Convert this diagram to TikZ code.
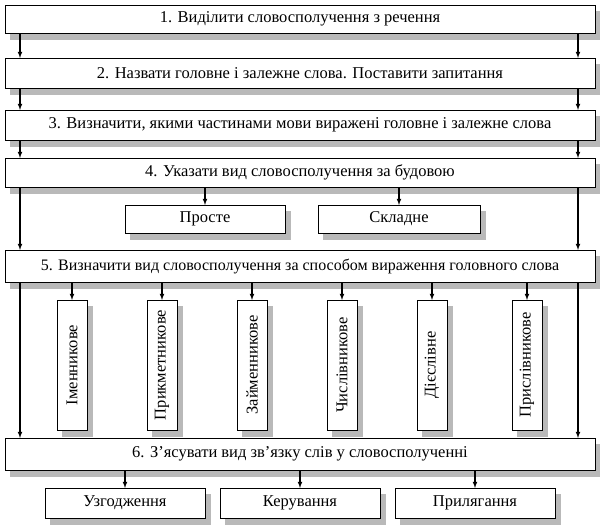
\documentclass[tikz,border=0pt]{standalone}
\usepackage{fontspec}
\setmainfont{Liberation Serif}
\begin{document}
\begin{tikzpicture}[x=1pt,y=-1pt,
  bx/.style={draw=black,fill=white,line width=0.8pt},
  shd/.style={fill=gray!55},
  arr/.style={-latex,line width=1.1pt},
  lbl/.style={font=\fontsize{16.5}{18}\selectfont}]
\useasboundingbox (0,0) rectangle (600,525);
\fill[white] (0,0) rectangle (600,525);
\newcommand\bxr[4]{\fill[shd] (#1+5,#2+6) rectangle (#3+6,#4+7); \draw[bx] (#1,#2) rectangle (#3,#4);}
\bxr{5}{5}{595}{33} \node[lbl] (b1) at (300,19) {1. Виділити словосполучення з речення};
\bxr{5}{58}{595}{88} \node[lbl] (b2) at (300,73) {2. Назвати головне і залежне слова. Поставити запитання};
\bxr{5}{110}{595}{140} \node[lbl] (b3) at (300,125) {3. Визначити, якими частинами мови виражені головне і залежне слова};
\bxr{5}{158}{595}{187} \node[lbl] (b4) at (300,172) {4. Указати вид словосполучення за будовою};
\bxr{125}{205}{285}{233} \node[lbl] (p1) at (205,219) {Просте};
\bxr{318}{205}{480}{233} \node[lbl] (p2) at (399,219) {Складне};
\bxr{5}{250}{595}{282} \node[lbl,font=\fontsize{16}{18}\selectfont] (b5) at (300,266) {5. Визначити вид словосполучення за способом вираження головного слова};
\foreach \x/\t/\n in {72/Іменникове/v1,162/Прикметникове/v2,252/Займенникове/v3,342/Числівникове/v4,432/Дієслівне/v5,527/Прислівникове/v6}{
  \bxr{\x-15}{300}{\x+15}{430}
  \node[lbl,rotate=90] (\n) at (\x,365) {\t};
  \draw[arr] (\x,282) -- (\x,300);
}
\bxr{5}{438}{595}{470} \node[lbl] (b6) at (300,454) {6. З’ясувати вид зв’язку слів у словосполученні};
\bxr{45}{488}{205}{518} \node[lbl] (c1) at (125,503) {Узгодження};
\bxr{220}{488}{380}{518} \node[lbl] (c2) at (300,503) {Керування};
\bxr{395}{488}{555}{518} \node[lbl] (c3) at (475,503) {Прилягання};
\foreach \a/\b in {33/58,88/110,140/158,187/250,282/438}{
  \draw[arr] (20,\a) -- (20,\b);
  \draw[arr] (578,\a) -- (578,\b);
}
\draw[arr] (205,187) -- (205,205);
\draw[arr] (399,187) -- (399,205);
\foreach \x in {125,300,475}{\draw[arr] (\x,470) -- (\x,488);}
\end{tikzpicture}
\end{document}
